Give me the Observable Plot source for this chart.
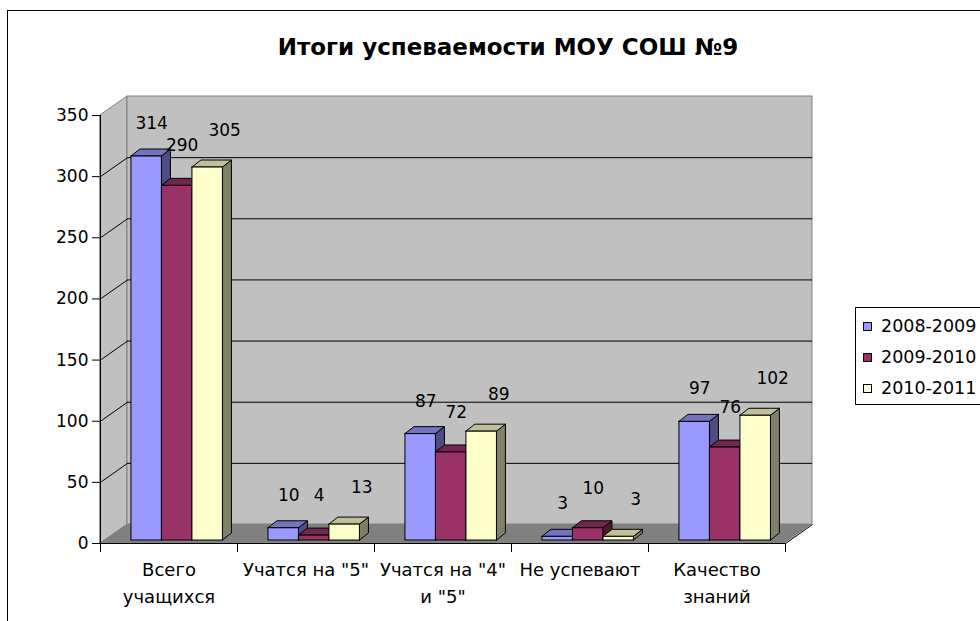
<!DOCTYPE html>
<html>
<head>
<meta charset="utf-8">
<script src="https://cdn.jsdelivr.net/npm/d3@7"></script>
<script src="https://cdn.jsdelivr.net/npm/@observablehq/plot@0.6"></script>
<style>
  html, body { margin: 0; padding: 0; background: #fff; }
  #wrap { position: relative; width: 980px; height: 621px; overflow: hidden; font-family: "DejaVu Sans", sans-serif; }
  #frame { position: absolute; left: 7px; top: 10px; width: 1100px; height: 800px; border: 1px solid #000; box-sizing: border-box; pointer-events: none; }
  #title { position: absolute; left: 0; width: 1016px; top: 32px; text-align: center; font-weight: bold; font-size: 23px; line-height: 30px; color: #000; }
  #legend { position: absolute; left: 855px; top: 307px; width: 200px; height: 98px; border: 1px solid #000; box-sizing: border-box; background: #fff; }
  .item { position: absolute; left: 0; height: 20px; font-size: 17.5px; line-height: 20px; white-space: nowrap; }
  .sw { position: absolute; left: 7px; top: 6px; width: 9px; height: 9px; border: 1px solid #000; box-sizing: border-box; }
  .lbl { position: absolute; left: 25px; top: 0; }
</style>
</head>
<body>
<div id="wrap">
  <div id="plot"></div>
  <div id="title">Итоги успеваемости МОУ СОШ №9</div>
  <div id="legend"></div>
  <div id="frame"></div>
</div>
<script>
// ---- data ----
const categories = ["Всего\nучащихся", "Учатся на \"5\"", "Учатся на \"4\"\nи \"5\"", "Не успевают", "Качество\nзнаний"];
const seriesNames = ["2008-2009", "2009-2010", "2010-2011"];
const values2008 = [314, 10, 87, 3, 97];
const values2009 = [290, 4, 72, 10, 76];
const values2010 = [305, 13, 89, 3, 102];
const yTicks = [0, 50, 100, 150, 200, 250, 300, 350];

// ---- styling / layout ----
const frontColors = ["#9999ff", "#993366", "#ffffcc"];
const topColors   = ["#7373bf", "#732650", "#bfbf99"];
const sideColors  = ["#4d4d80", "#4d1a33", "#808066"];
const W = 980, H = 621, mL = 100, mR = 195, mT = 115, mB = 78;
const kx = 5 / (W - mL - mR);          // data units per px (x)
const ky = 350 / (H - mT - mB);        // data units per px (y)
const wallDx = 27 * kx, wallDy = 19 * ky;   // depth of the 3D box
const barDx = 9 * kx, barDy = 7 * ky;       // depth of a bar
const groupStart = 0.204, barW = 0.2226;
const labelDx = [5, 5, 17], labelDy = [-33, -40, -37];

const allValues = [values2008, values2009, values2010];
const rows = [];
allValues.forEach((vals, s) => vals.forEach((v, i) => {
  const x1 = i + groupStart + s * barW;
  rows.push({s, i, v, x1, x2: x1 + barW, name: seriesNames[s]});
}));

// polygons for faces (area: x, y1, y2 with z)
const sides = [], tops = [];
rows.forEach((r, k) => {
  sides.push({k, s: r.s, x: r.x2, y1: 0, y2: r.v});
  sides.push({k, s: r.s, x: r.x2 + barDx, y1: barDy, y2: r.v + barDy});
  tops.push({k, s: r.s, x: r.x1, y1: r.v, y2: r.v});
  tops.push({k, s: r.s, x: r.x1 + barDx, y1: r.v, y2: r.v + barDy});
  tops.push({k, s: r.s, x: r.x2, y1: r.v, y2: r.v + barDy});
  tops.push({k, s: r.s, x: r.x2 + barDx, y1: r.v + barDy, y2: r.v + barDy});
});
const yMax = yTicks[yTicks.length - 1];
const nCat = categories.length;
const leftWall = [{x: 0, y1: 0, y2: yMax}, {x: wallDx, y1: wallDy, y2: yMax + wallDy}];
const floor = [
  {x: 0, y1: 0, y2: 0}, {x: wallDx, y1: 0, y2: wallDy},
  {x: nCat, y1: 0, y2: wallDy}, {x: nCat + wallDx, y1: wallDy, y2: wallDy}
];
const backWall = [{x1: wallDx, x2: nCat + wallDx, y1: wallDy, y2: yMax + wallDy}];
const gridTicks = yTicks.filter(t => t > 0 && t < yMax);

const chart = Plot.plot({
  width: W, height: H,
  marginLeft: mL, marginRight: mR, marginTop: mT, marginBottom: mB,
  x: {domain: [0, nCat]},
  y: {domain: [0, yMax]},
  style: {fontFamily: "DejaVu Sans", fontSize: "17px", background: "transparent", color: "#000", overflow: "visible"},
  marks: [
    Plot.areaY(leftWall, {x: "x", y1: "y1", y2: "y2", fill: "#c0c0c0", stroke: "#808080"}),
    Plot.rect(backWall, {x1: "x1", x2: "x2", y1: "y1", y2: "y2", fill: "#c0c0c0", stroke: "#808080"}),
    Plot.ruleY(gridTicks, {y: d => d + wallDy, x1: () => wallDx, x2: () => nCat + wallDx, stroke: "#000"}),
    Plot.link(gridTicks, {x1: () => 0, y1: d => d, x2: () => wallDx, y2: d => d + wallDy, stroke: "#000"}),
    Plot.areaY(floor, {x: "x", y1: "y1", y2: "y2", fill: "#808080"}),
    Plot.link([0], {x1: () => nCat, y1: () => 0, x2: () => nCat + wallDx, y2: () => wallDy, stroke: "#000"}),
    Plot.ruleY([0], {stroke: "#000"}),
    Plot.ruleX([0], {stroke: "#000"}),
    // bars: sides, tops, fronts
    Plot.areaY(sides, {x: "x", y1: "y1", y2: "y2", z: "k", fill: d => sideColors[d.s], stroke: "#000", strokeWidth: 1, dx: 3, dy: -3}),
    Plot.areaY(tops, {x: "x", y1: "y1", y2: "y2", z: "k", fill: d => topColors[d.s], stroke: "#000", strokeWidth: 1, dx: 3, dy: -3}),
    Plot.rect(rows, {x1: "x1", x2: "x2", y1: () => 0, y2: "v", fill: d => frontColors[d.s], stroke: "#000", strokeWidth: 1, dx: 3, dy: -3}),
    // value labels
    Plot.text(rows, {x: d => (d.x1 + d.x2) / 2, y: "v", text: d => String(d.v), fontSize: 17,
      dx: 3, dy: -3, fill: "#000"}),
    // axes
    Plot.axisY({ticks: yTicks, tickSize: 8, tickPadding: 4, label: null, fontSize: 17}),
    Plot.axisX({ticks: d3.range(nCat + 1), tickSize: 9, tickFormat: () => "", label: null}),
    Plot.text(categories, {x: (d, i) => i + 0.5, y: () => 0, text: d => d, lineAnchor: "top", dy: 14, lineHeight: 1.47, fontSize: 18, fill: "#000"})
  ]
});
document.getElementById("plot").appendChild(chart);
// shift value labels per series (styling offsets)
d3.select(chart).selectAll("g[aria-label='text']").filter((d, i) => i === 0).selectAll("text")
  .each(function(_, j) {
    const r = rows[j];
    const t = d3.select(this);
    const tr = t.attr("transform") || "";
    t.attr("transform", tr + ` translate(${labelDx[r.s]},${labelDy[r.s]})`);
  });

// legend
const leg = document.getElementById("legend");
seriesNames.forEach((n, s) => {
  const it = document.createElement("div");
  it.className = "item";
  it.style.top = (8 + s * 31) + "px";
  it.innerHTML = `<span class="sw" style="background:${frontColors[s]}"></span><span class="lbl">${n}</span>`;
  leg.appendChild(it);
});
</script>
</body>
</html>
